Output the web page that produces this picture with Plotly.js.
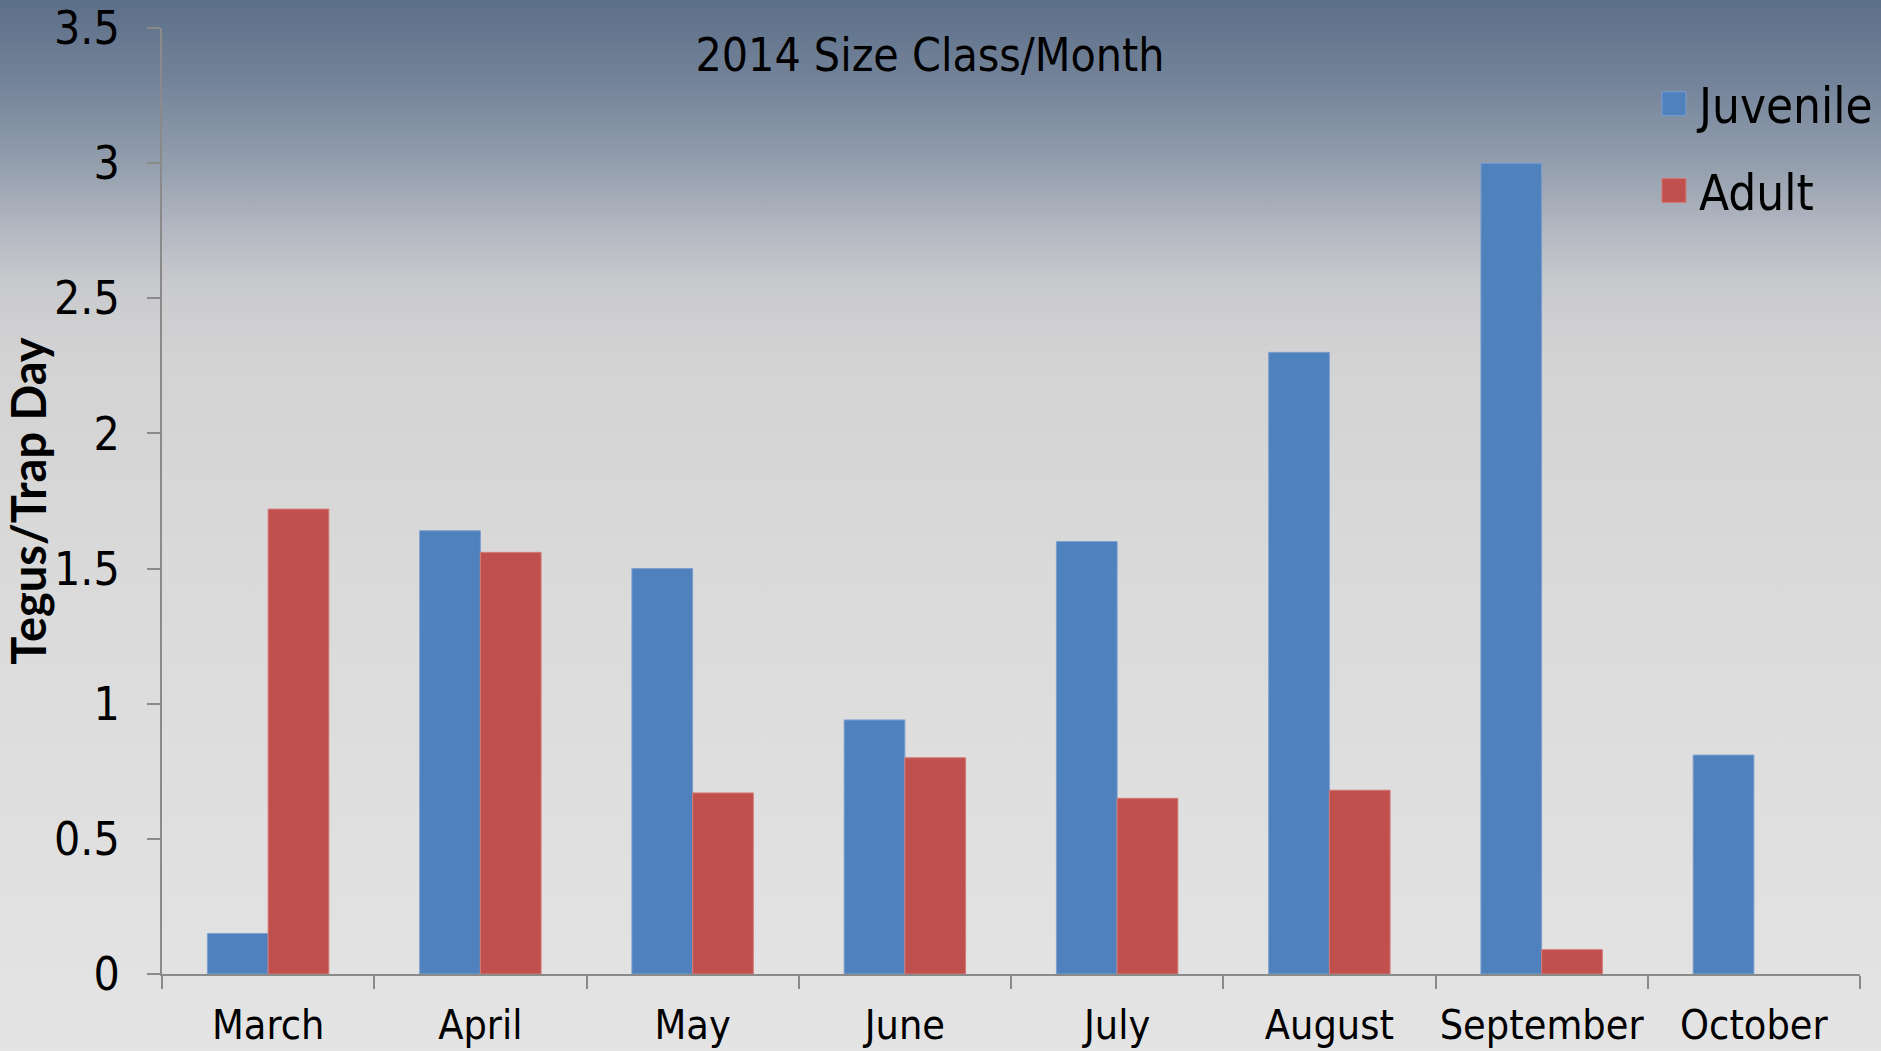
<!DOCTYPE html>
<html><head><meta charset="utf-8">
<script src="https://cdn.plot.ly/plotly-3.0.1.min.js"></script>
<style>
html,body{margin:0;padding:0;}
body{width:1881px;height:1051px;overflow:hidden;background:linear-gradient(to bottom,#5c6f88 0%,#74849a 8%,#95a0ae 16%,#b4b8c2 22%,#c9cacd 27%,#d3d3d4 34%,#dadada 55%,#e4e4e4 100%);}
#chart{width:1881px;height:1051px;}
</style></head><body><div id="chart"></div>
<script>
const months = ['March','April','May','June','July','August','September','October'];
const juvenile = [0.15,1.64,1.50,0.94,1.60,2.30,3.00,0.81];
const adult = [1.72,1.56,0.67,0.80,0.65,0.68,0.09,null];
const yTickValues = [0,0.5,1,1.5,2,2.5,3,3.5];
const yTickLabels = ['0','0.5','1','1.5','2','2.5','3','3.5'];
const chartTitle = '2014 Size Class/Month';
const yTitle = 'Tegus/Trap Day';

const cond = 'DejaVu Sans Condensed, DejaVu Sans, sans-serif';
const traces = [
  {type:'bar', name:'Juvenile', x:months, y:juvenile, legendgroup:'j',
   marker:{color:'#4F81BD', line:{color:'#7d9fcf', width:1}}},
  {type:'bar', name:'Adult', x:months, y:adult, legendgroup:'a',
   marker:{color:'#C0504D', line:{color:'#d47a77', width:1}}}
];
const layout = {
  width:1881, height:1051,
  paper_bgcolor:'rgba(0,0,0,0)', plot_bgcolor:'rgba(0,0,0,0)',
  margin:{l:162, r:21, t:28, b:77, autoexpand:false},
  barmode:'group', bargap:0.428, bargroupgap:0,
  showlegend:true,
  title:{text:chartTitle, x:930/1881, xanchor:'center', y:1-55/1051, yanchor:'middle',
         font:{family:cond, size:46, color:'#000'}},
  legend:{x:0.8816, xanchor:'left', y:0.9605, yanchor:'top',
          bgcolor:'rgba(0,0,0,0)', font:{family:cond, size:49, color:'#000'},
          traceorder:'grouped', tracegroupgap:20, itemclick:false},
  xaxis:{type:'category', showgrid:false, showline:true, linecolor:'#8a8a8a', linewidth:2,
         ticks:'outside', tickson:'boundaries', ticklen:13, tickwidth:2, tickcolor:'#8a8a8a',
         tickangle:0, automargin:false,
         tickfont:{family:cond, size:41, color:'#000'}, ticklabelstandoff:14, zeroline:false},
  yaxis:{range:[0,3.5], showgrid:false, showline:true, linecolor:'#8a8a8a', linewidth:2,
         tickmode:'array', tickvals:yTickValues, ticktext:yTickLabels,
         ticks:'outside', ticklen:13, tickwidth:2, tickcolor:'#8a8a8a',
         tickfont:{family:cond, size:46, color:'#000'}, ticklabelstandoff:18, zeroline:false,
         title:{text:yTitle, standoff:0, font:{family:'Lato, Liberation Sans, sans-serif', size:47, weight:'bold', color:'#000'}},
         automargin:false}
};
Plotly.newPlot('chart', traces, layout, {displayModeBar:false, staticPlot:true}).then(function(gd){
  document.querySelectorAll('.legendpoints path').forEach(function(p){
    p.setAttribute('d','M7,12H-17V-12H7Z');
  });
});
</script></body></html>
